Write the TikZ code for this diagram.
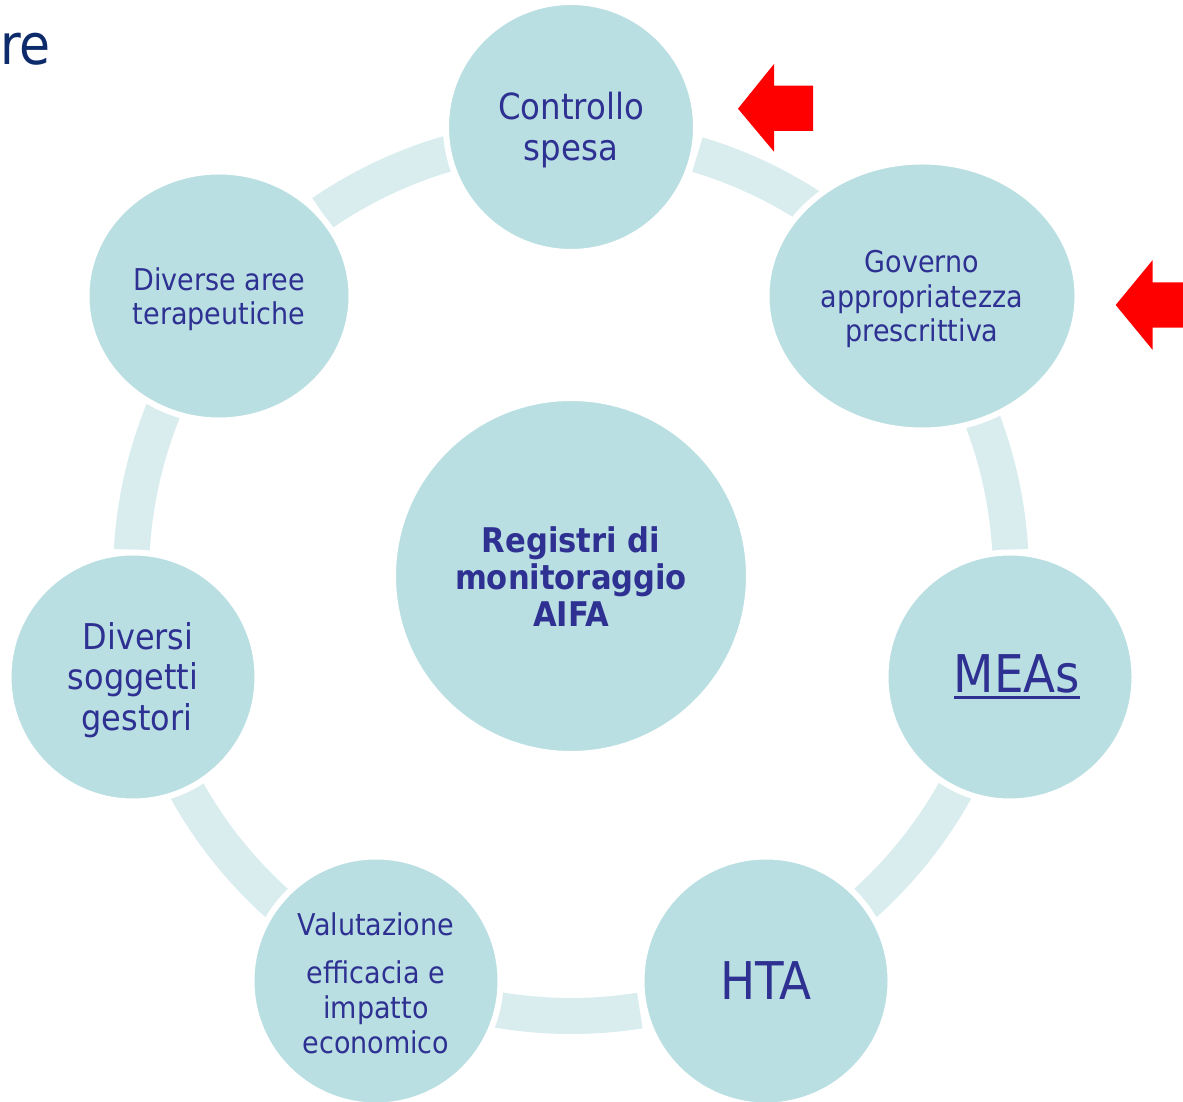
\documentclass[tikz,border=0pt]{standalone}
\usepackage{fontspec}
\setmainfont{DejaVu Sans Condensed}
\usetikzlibrary{shapes.geometric}
\definecolor{blobfill}{HTML}{B9DFE2}
\definecolor{ringcol}{HTML}{D9ECEE}
\definecolor{inkblue}{HTML}{2E3192}
\definecolor{navy}{HTML}{0D2A6A}
\newcommand\ulbar[1]{\setbox0\hbox{#1}\rlap{\rule[-7pt]{\wd0}{3.2pt}}\box0}
\tikzset{
  blob/.style={circle, fill=blobfill, draw=white, line width=6pt, inner sep=0pt},
  oval/.style={ellipse, fill=blobfill, draw=white, line width=6pt, inner sep=0pt},
  lbl/.style={text=inkblue, align=center, inner sep=0pt},
  ringseg/.style={draw=ringcol, line width=36pt, line cap=butt},
  redarrow/.style={fill=red, draw=none}
}
\begin{document}
\begin{tikzpicture}[x=1pt, y=1pt]
\useasboundingbox (0,0) rectangle (1183,1101);
\coordinate (O) at (571,525);

% ring segments between the satellites
\foreach \a/\b in {57/73.3, 3.4/21.3, -48.2/-28.6, -99.7/-81, -151/-131.3, 157.8/176.6, 106.2/124.4}
  \draw[ringseg] ([shift={(\a:440)}]O) arc[start angle=\a, end angle=\b, radius=440];

% discs
\node[blob, minimum size=356pt] (hub) at (O) {};
\node[blob, minimum size=250pt] (spesa) at (571,974) {};
\node[oval, minimum width=311pt, minimum height=269pt] (gov) at (922,805) {};
\node[blob, minimum size=249pt] (meas) at (1010,424) {};
\node[blob, minimum size=249pt] (hta) at (766,120) {};
\node[blob, minimum size=249pt] (valut) at (376,120) {};
\node[blob, minimum size=249pt] (sogg) at (133,424) {};
\node[oval, minimum width=265pt, minimum height=249pt] (aree) at (219,805) {};

% texts
\node[lbl, font=\bfseries\fontsize{34}{37}\selectfont] (hubtxt) at ([yshift=-1pt]hub.center)
  {Registri di\\monitoraggio\\AIFA};
\node[lbl, font=\fontsize{36}{41}\selectfont] (spesatxt) at ([yshift=-3pt]spesa.center)
  {Controllo\\spesa};
\node[lbl, font=\fontsize{30}{34.5}\selectfont] (govtxt) at ([yshift=-3pt]gov.center)
  {Governo\\appropriatezza\\prescrittiva};
\node[lbl, font=\fontsize{52}{56}\selectfont] (meastxt) at ([xshift=7pt]meas.center)
  {\ulbar{MEAs}};
\node[lbl, font=\fontsize{52}{56}\selectfont] (htatxt) at (hta.center) {HTA};
\node[lbl, font=\fontsize{30}{35}\selectfont] (valuttxt) at ([yshift=-2pt]valut.center)
  {Valutazione\\[13pt]efficacia e\\impatto\\economico};
\node[lbl, font=\fontsize{35.5}{40.5}\selectfont] (soggtxt) at ([yshift=-3pt]sogg.center)
  {\hspace*{10pt}Diversi\\soggetti\\\hspace*{8pt}gestori};
\node[lbl, font=\fontsize{30}{34}\selectfont] (areetxt) at ([yshift=-3pt]aree.center)
  {Diverse aree\\terapeutiche};

% fragment of the slide title
\node[anchor=base west, inner sep=0pt, text=navy, font=\fontsize{56}{60}\selectfont] (title) at (0,1036) {re};

% red pointers
\fill[redarrow] (738,992.3) -- (774,1037) -- (774,1015.3) -- (813,1015.3)
  -- (813,970) -- (774,970) -- (774,949.3) -- cycle;
\fill[redarrow] (1115.7,796) -- (1152.7,841) -- (1152.7,818.7) -- (1183,818.7)
  -- (1183,773.3) -- (1152.7,773.3) -- (1152.7,751) -- cycle;
\end{tikzpicture}
\end{document}
